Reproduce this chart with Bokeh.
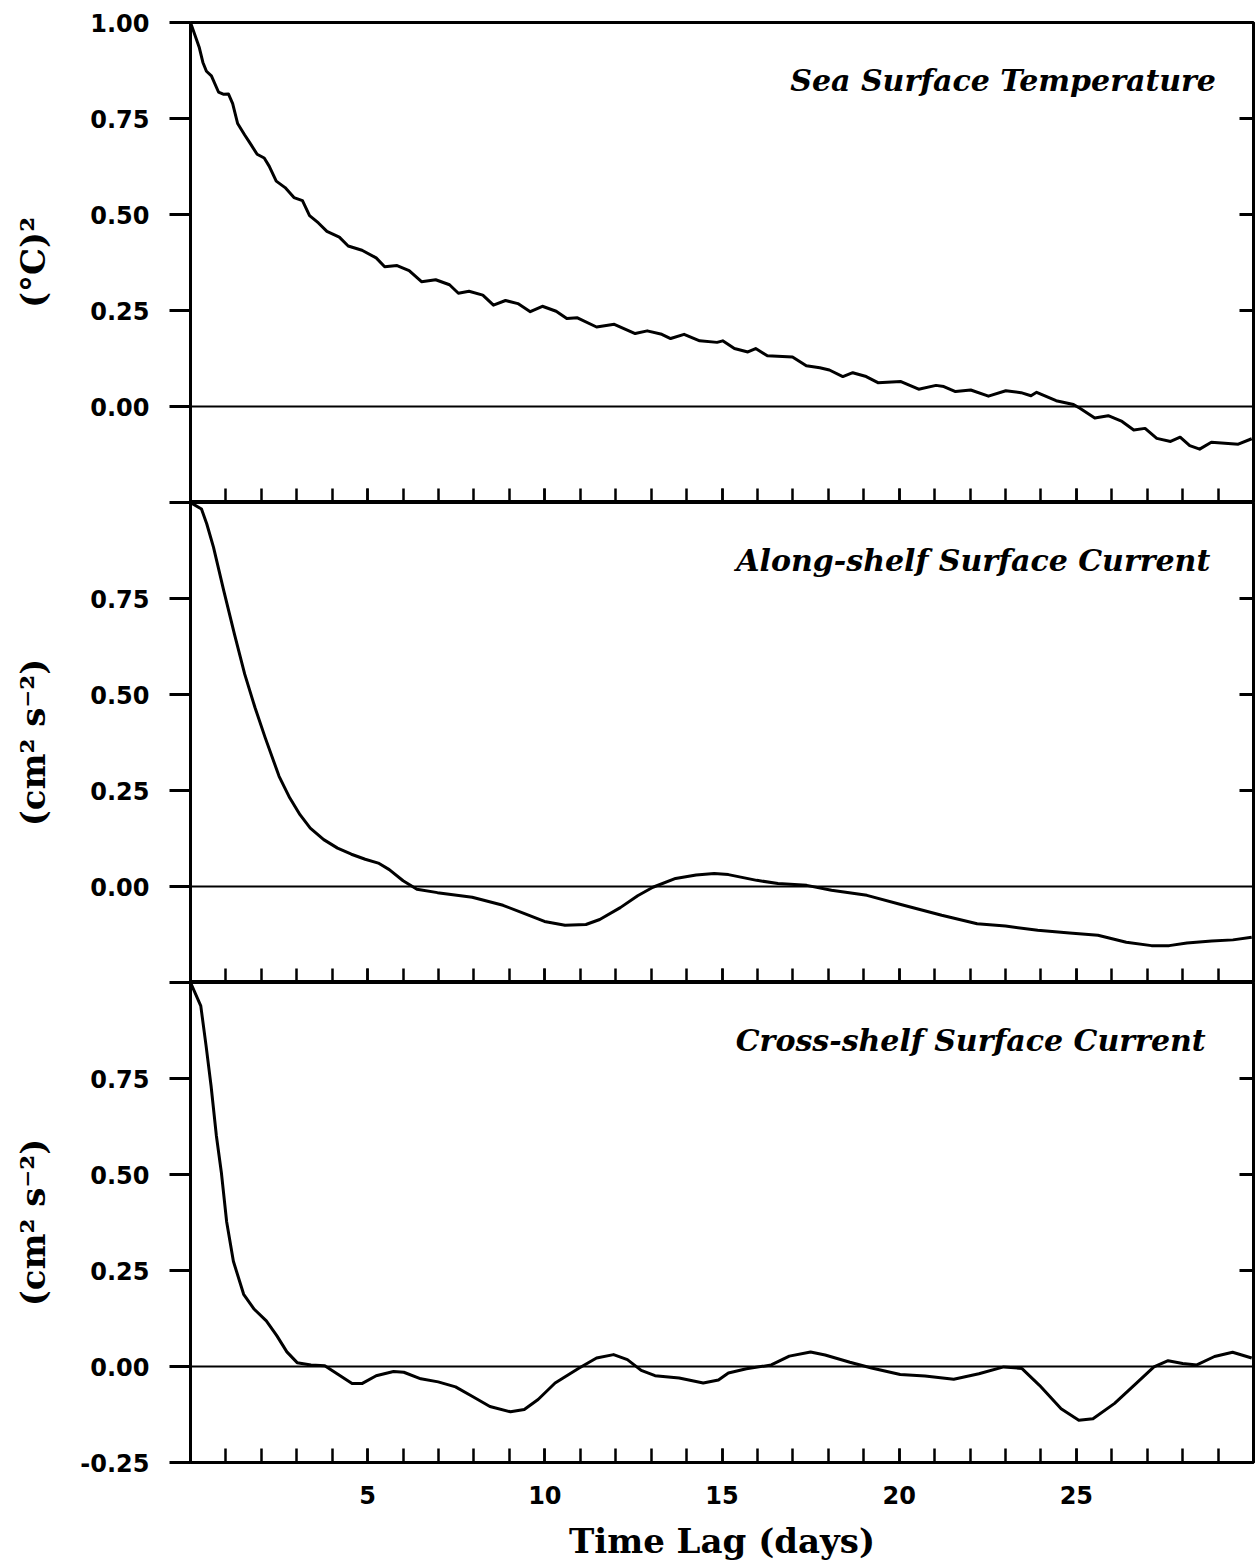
from bokeh.plotting import figure
from bokeh.layouts import column
from bokeh.models import (FixedTicker, LinearAxis, Span, Label, Range1d,
                          PrintfTickFormatter, CustomLabelingPolicy)
from bokeh.embed import file_html
from bokeh.resources import INLINE

# ---------------- data ----------------
sst_day = [0, 0.25, 0.35, 0.45, 0.59, 0.79, 0.94, 1.07, 1.19, 1.33,
           1.53, 1.68, 1.88, 2.08, 2.22, 2.42, 2.67, 2.92, 3.16, 3.36,
           3.61, 3.85, 4.2, 4.45, 4.84, 5.24, 5.48, 5.83, 6.17, 6.52,
           6.92, 7.31, 7.56, 7.86, 8.25, 8.55, 8.89, 9.24, 9.59, 9.93,
           10.32, 10.62, 10.92, 11.46, 11.96, 12.55, 12.89, 13.3, 13.55, 13.93,
           14.37, 14.86, 15.02, 15.35, 15.73, 15.95, 16.28, 16.99, 17.38, 17.76,
           18.03, 18.41, 18.69, 19.07, 19.4, 20.05, 20.55, 21.04, 21.26, 21.59,
           22.02, 22.52, 23.01, 23.44, 23.72, 23.88, 24.43, 24.92, 25.09, 25.52,
           25.9, 26.29, 26.62, 26.94, 27.27, 27.66, 27.93, 28.2, 28.48, 28.81,
           29.57, 29.95]
sst_val = [1.0, 0.934, 0.896, 0.873, 0.861, 0.819, 0.813, 0.814, 0.789, 0.737,
           0.707, 0.686, 0.657, 0.647, 0.626, 0.587, 0.57, 0.544, 0.536, 0.497,
           0.478, 0.456, 0.441, 0.418, 0.407, 0.387, 0.364, 0.367, 0.354, 0.325,
           0.33, 0.317, 0.295, 0.3, 0.29, 0.264, 0.276, 0.268, 0.247, 0.261,
           0.248, 0.229, 0.231, 0.207, 0.214, 0.19, 0.197, 0.188, 0.177, 0.188,
           0.171, 0.167, 0.171, 0.151, 0.142, 0.151, 0.132, 0.129, 0.106, 0.101,
           0.095, 0.078, 0.088, 0.078, 0.062, 0.065, 0.045, 0.055, 0.052, 0.039,
           0.043, 0.027, 0.041, 0.036, 0.028, 0.037, 0.015, 0.005, -0.004, -0.03,
           -0.024, -0.039, -0.061, -0.057, -0.083, -0.091, -0.08, -0.102, -0.111, -0.093,
           -0.098, -0.084]

along_day = [0, 0.31, 0.46, 0.65, 0.94, 1.24, 1.53, 1.82, 2.11, 2.5,
             2.8, 3.09, 3.38, 3.76, 4.15, 4.54, 4.93, 5.3, 5.61, 6.0,
             6.39, 6.97, 7.95, 8.82, 9.41, 9.99, 10.57, 11.16, 11.55, 12.13,
             12.62, 13.05, 13.69, 14.27, 14.78, 15.18, 15.98, 16.58, 17.39, 18.09,
             19.09, 20.1, 21.2, 22.2, 23.0, 23.91, 24.81, 25.61, 26.41, 27.12,
             27.62, 28.12, 28.82, 29.42, 29.95]
along_val = [1.0, 0.983, 0.944, 0.883, 0.77, 0.657, 0.553, 0.466, 0.387, 0.287,
             0.231, 0.187, 0.152, 0.122, 0.1, 0.084, 0.071, 0.061, 0.044, 0.015,
             -0.007, -0.016, -0.028, -0.049, -0.07, -0.091, -0.101, -0.099, -0.086, -0.055,
             -0.024, -0.002, 0.021, 0.03, 0.034, 0.031, 0.016, 0.008, 0.003, -0.01,
             -0.023, -0.048, -0.075, -0.097, -0.103, -0.114, -0.121, -0.127, -0.145, -0.154,
             -0.154, -0.147, -0.142, -0.139, -0.132]

cross_day = [0, 0.29, 0.44, 0.58, 0.73, 0.87, 1.02, 1.21, 1.5, 1.8,
             2.14, 2.43, 2.72, 3.01, 3.4, 3.79, 4.17, 4.56, 4.85, 5.24,
             5.73, 6.02, 6.5, 6.99, 7.48, 7.96, 8.45, 9.03, 9.42, 9.81,
             10.29, 10.97, 11.46, 11.94, 12.33, 12.72, 13.11, 13.79, 14.47, 14.9,
             15.18, 15.69, 16.39, 16.9, 17.5, 17.91, 18.61, 19.22, 20.03, 20.73,
             21.54, 22.25, 22.95, 23.46, 23.96, 24.57, 25.07, 25.47, 26.08, 26.69,
             27.19, 27.59, 28.0, 28.4, 28.9, 29.41, 29.95]
cross_val = [1.0, 0.939, 0.835, 0.731, 0.601, 0.506, 0.377, 0.274, 0.188, 0.149,
             0.119, 0.081, 0.038, 0.01, 0.004, 0.002, -0.021, -0.044, -0.044, -0.024,
             -0.013, -0.015, -0.032, -0.04, -0.053, -0.078, -0.104, -0.118, -0.112, -0.086,
             -0.043, -0.004, 0.022, 0.031, 0.018, -0.01, -0.024, -0.03, -0.043, -0.035,
             -0.017, -0.006, 0.004, 0.027, 0.038, 0.03, 0.011, -0.004, -0.021, -0.025,
             -0.033, -0.019, -0.001, -0.005, -0.049, -0.11, -0.14, -0.136, -0.096, -0.044,
             -0.001, 0.015, 0.008, 0.004, 0.026, 0.037, 0.022]

titles = ["Sea Surface Temperature", "Along-shelf Surface Current", "Cross-shelf Surface Current"]
ylabels = ["(°C)²", "(cm² s⁻²)", "(cm² s⁻²)"]
y_ticks = [-0.25, 0.0, 0.25, 0.5, 0.75, 1.0]
right_ticks = [0.25, 0.5, 0.75]
x_major_ticks = [5, 10, 15, 20, 25]
x_minor_ticks = list(range(1, 30))
x_label = "Time Lag (days)"

SANS = "DejaVu Sans"
SERIF = "DejaVu Serif"


def no_labels():
    return CustomLabelingPolicy(code="return []")


def make_panel(days, vals, title, ylabel, keep, top_border, bottom_labels, title_x):
    p = figure(frame_width=1063, frame_height=480,
               x_range=Range1d(0, 30), y_range=Range1d(-0.25, 1.0),
               output_backend="svg", toolbar_location=None,
               x_axis_location=None, y_axis_location=None,
               min_border_left=190, min_border_right=6,
               min_border_top=top_border, min_border_bottom=0,
               background_fill_color="white", border_fill_color="white")
    p.grid.visible = False
    p.outline_line_color = "black"
    p.outline_line_width = 3

    # left axis
    yl = LinearAxis(ticker=FixedTicker(ticks=y_ticks),
                    formatter=PrintfTickFormatter(format="%.2f"),
                    major_label_policy=CustomLabelingPolicy(code="return %s" % keep),
                    major_tick_out=21, major_tick_in=0,
                    major_tick_line_width=3, axis_line_width=3,
                    major_label_standoff=20,
                    major_label_text_font=SANS, major_label_text_font_style="bold",
                    major_label_text_font_size="24px", major_label_text_color="black",
                    axis_label=ylabel, axis_label_text_font=SERIF,
                    axis_label_text_font_style="bold", axis_label_text_font_size="34px",
                    axis_label_text_color="black", axis_label_standoff=24)
    p.add_layout(yl, "left")

    # right axis: inward ticks only
    yr = LinearAxis(ticker=FixedTicker(ticks=right_ticks),
                    major_tick_in=14, major_tick_out=0, major_tick_line_width=3,
                    axis_line_width=3, major_label_standoff=0,
                    major_label_text_font_size="0px",
                    major_label_policy=no_labels())
    p.add_layout(yr, "right")

    # bottom axis: inward day ticks
    xb = LinearAxis(ticker=FixedTicker(ticks=x_major_ticks, minor_ticks=x_minor_ticks),
                    major_tick_in=14, major_tick_out=0, minor_tick_in=14, minor_tick_out=0,
                    major_tick_line_width=2.5, minor_tick_line_width=2.5,
                    axis_line_width=3)
    if bottom_labels:
        xb.major_label_standoff = 23
        xb.major_label_text_font = SANS
        xb.major_label_text_font_style = "bold"
        xb.major_label_text_font_size = "24px"
        xb.major_label_text_color = "black"
        xb.axis_label = x_label
        xb.axis_label_text_font = SERIF
        xb.axis_label_text_font_style = "bold"
        xb.axis_label_text_font_size = "34px"
        xb.axis_label_text_color = "black"
        xb.axis_label_standoff = 14
    else:
        xb.major_label_standoff = 0
        xb.major_label_text_font_size = "0px"
        xb.major_label_policy = no_labels()
    p.add_layout(xb, "below")

    p.add_layout(Span(location=0, dimension="width", line_color="black", line_width=2))
    p.line(days, vals, line_color="black", line_width=3, line_join="round")

    p.add_layout(Label(x=title_x, y=0.849, text=title, text_align="right",
                       text_baseline="alphabetic", text_font=SERIF,
                       text_font_style="bold italic", text_font_size="30px",
                       text_color="black"))
    return p


p1 = make_panel(sst_day, sst_val, titles[0], ylabels[0], [1, 2, 3, 4, 5], 22, False, 28.94)
p2 = make_panel(along_day, along_val, titles[1], ylabels[1], [1, 2, 3, 4], 0, False, 28.78)
p3 = make_panel(cross_day, cross_val, titles[2], ylabels[2], [0, 1, 2, 3, 4], 0, True, 28.65)

layout = column(p1, p2, p3, spacing=0)
open("out.html", "w").write(file_html(layout, INLINE))
